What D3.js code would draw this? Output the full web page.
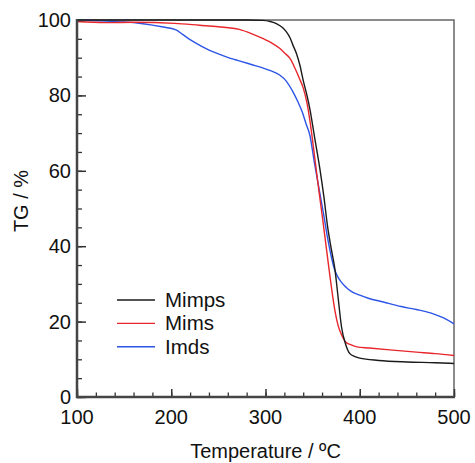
<!doctype html>
<html>
<head>
<meta charset="utf-8">
<title>TG curves</title>
<style>
  body { margin: 0; background: #fff; }
  svg text { font-family: "Liberation Sans", Arial, sans-serif; fill: #111; }
</style>
</head>
<body>
<script src="https://d3js.org/d3.v7.min.js"></script>
<script>
// data: [temperature, TG %]
var mimps = [[100,100],[150,100],[200,100],[250,100],[280,100],[297,99.9],[305,99.6],[312,99.0],[318,98],[322,96.9],[326,95.3],[329,93.4],[333,91],[336.5,88],[340,84],[344,80],[347,76.5],[352,69],[357.7,60.5],[362,53],[366,45],[370,39],[373.6,34],[377,26.5],[380.7,18.5],[385,14],[389.5,11.5],[395,10.7],[400,10.3],[420,9.7],[450,9.3],[480,9.1],[500,8.9]];
var mims = [[100,99.6],[130,99.3],[160,99.4],[204,99.1],[230,98.6],[250,98.2],[272,97.5],[285,96.4],[297,95.1],[306,94],[315,92.5],[320,91.3],[326,89.8],[332,86.8],[336,84.5],[340,82],[344,78],[347,73.5],[352,64],[356,56],[361,46.5],[366.6,35.5],[370,29],[373.6,23],[377,19],[380.7,16.5],[385,14.6],[391,13.8],[397,13.3],[410,13],[432,12.5],[460,11.9],[480,11.5],[500,11]];
var imds = [[100,100],[130,99.7],[150,99.5],[170,99],[190,98.2],[205,97.4],[212,96.2],[220,94.8],[228,93.6],[237,92.4],[250,91],[262,89.9],[273,89.1],[285,88.2],[297,87.3],[306,86.5],[315,85.4],[322,83.8],[329,81],[334,78.5],[339,75.6],[343,72.5],[347,69.5],[352,62],[357.7,54],[362,48],[366,42],[370,37],[373,34],[376,32.2],[380,30.6],[386,29],[391,28],[400,27],[409,26.2],[425,25.2],[444,24],[460,23.2],[475,22.3],[485,21.4],[492,20.6],[500,19.4]];

var seriesNames = ["Mimps", "Mims", "Imds"];
var seriesColors = ["#1a1a1a", "#e8262b", "#2d55e6"];
var xTicks = [100, 200, 300, 400, 500];
var yTicks = [0, 20, 40, 60, 80, 100];

var w = 475, h = 463;
var pLeft = 77, pRight = 454, pTop = 20, pBottom = 397;

var x = d3.scaleLinear().domain([100, 500]).range([pLeft, pRight]);
var y = d3.scaleLinear().domain([0, 100]).range([pBottom, pTop]);

var svg = d3.select("body").append("svg")
  .attr("width", w)
  .attr("height", h);

// frame (top / right)
svg.append("rect")
  .attr("x", pLeft).attr("y", pTop)
  .attr("width", pRight - pLeft).attr("height", pBottom - pTop)
  .attr("fill", "none")
  .attr("stroke", "#666")
  .attr("stroke-width", 1.5);

// lines
var line = d3.line()
  .x(function(d) { return x(d[0]); })
  .y(function(d) { return y(d[1]); })
  .curve(d3.curveMonotoneX);

var allData = [mimps, mims, imds];
svg.append("clipPath").attr("id", "clip")
  .append("rect").attr("x", pLeft).attr("y", pTop - 2).attr("width", pRight - pLeft).attr("height", pBottom - pTop + 2);

svg.append("g").attr("clip-path", "url(#clip)")
  .selectAll("path")
  .data([2, 1, 0])
  .enter()
  .append("path")
  .attr("d", function(i) { return line(allData[i]); })
  .attr("fill", "none")
  .attr("stroke", function(i) { return seriesColors[i]; })
  .attr("stroke-width", 1.4);

// axes, ticks pointing inward
var xAxis = svg.append("g").attr("transform", "translate(0," + pBottom + ")");
xAxis.call(d3.axisTop(x).tickValues(d3.range(100, 501, 20)).tickSize(4.5).tickFormat(""));
xAxis.select(".domain").remove();
xAxis.selectAll(".tick line").attr("stroke", "#333").attr("stroke-width", 1.3);
var xMajor = svg.append("g").attr("transform", "translate(0," + pBottom + ")");
xMajor.call(d3.axisTop(x).tickValues(xTicks).tickSize(8).tickFormat(""));
xMajor.select(".domain").remove();
xMajor.selectAll(".tick line").attr("stroke", "#333").attr("stroke-width", 1.5);

var yAxis = svg.append("g").attr("transform", "translate(" + pLeft + ",0)");
yAxis.call(d3.axisRight(y).tickValues(d3.range(0, 101, 5)).tickSize(5).tickFormat(""));
yAxis.select(".domain").remove();
yAxis.selectAll(".tick line").attr("stroke", "#333").attr("stroke-width", 1.3);
var yMajor = svg.append("g").attr("transform", "translate(" + pLeft + ",0)");
yMajor.call(d3.axisRight(y).tickValues(yTicks).tickSize(9).tickFormat(""));
yMajor.select(".domain").remove();
yMajor.selectAll(".tick line").attr("stroke", "#333").attr("stroke-width", 1.5);

// thick left and bottom axis lines
svg.append("line").attr("x1", pLeft).attr("x2", pLeft).attr("y1", pTop - 1).attr("y2", pBottom + 1)
  .attr("stroke", "#444").attr("stroke-width", 2.5);
svg.append("line").attr("x1", pLeft - 1).attr("x2", pRight + 1).attr("y1", pBottom).attr("y2", pBottom)
  .attr("stroke", "#444").attr("stroke-width", 2.5);

// tick labels
svg.selectAll(".xl").data(xTicks).enter().append("text")
  .attr("class", "xl")
  .attr("x", function(d) { return x(d); })
  .attr("y", 424)
  .attr("text-anchor", "middle")
  .style("font-size", "20px")
  .text(function(d) { return d; });

svg.selectAll(".yl").data(yTicks).enter().append("text")
  .attr("class", "yl")
  .attr("x", 71)
  .attr("y", function(d) { return y(d) + 7; })
  .attr("text-anchor", "end")
  .style("font-size", "20px")
  .text(function(d) { return d; });

// axis titles
svg.append("text")
  .attr("x", (pLeft + pRight) / 2)
  .attr("y", 458)
  .attr("text-anchor", "middle")
  .style("font-size", "20px")
  .text("Temperature / \u00BAC");

svg.append("text")
  .attr("transform", "translate(28,201) rotate(-90)")
  .attr("text-anchor", "middle")
  .style("font-size", "20px")
  .text("TG / %");

// legend
var legend = svg.append("g");
legend.selectAll("line").data(seriesNames).enter().append("line")
  .attr("x1", 117).attr("x2", 155)
  .attr("y1", function(d, i) { return 300 + i * 23.4; })
  .attr("y2", function(d, i) { return 300 + i * 23.4; })
  .attr("stroke", function(d, i) { return seriesColors[i]; })
  .attr("stroke-width", 1.4);
legend.selectAll("text").data(seriesNames).enter().append("text")
  .attr("x", 165)
  .attr("y", function(d, i) { return 307 + i * 23.4; })
  .style("font-size", "20.5px")
  .text(function(d) { return d; });
</script>
</body>
</html>
